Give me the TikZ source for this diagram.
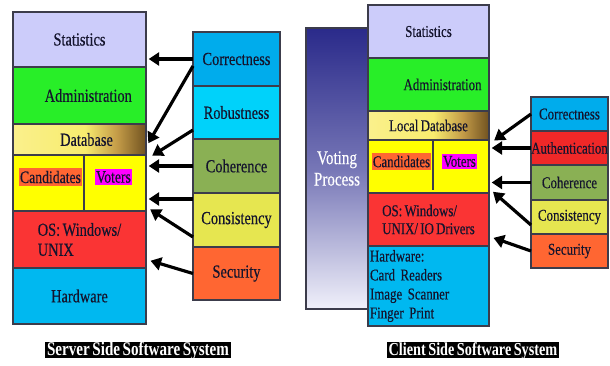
\documentclass[tikz,border=0pt]{standalone}
\usepackage{fontspec}
\setmainfont{Liberation Serif}[FakeStretch=0.78, WordSpace=0.7, UprightFeatures={FakeBold=0.4}]
\usepackage{tikz}
\usetikzlibrary{arrows.meta,calc,positioning}

\definecolor{statcol}{RGB}{204,204,250}
\definecolor{admcol}{RGB}{40,238,40}
\definecolor{candcol}{RGB}{255,255,0}
\definecolor{oscol}{RGB}{250,52,52}
\definecolor{hwcol}{RGB}{0,184,240}
\definecolor{corrcol}{RGB}{0,172,236}
\definecolor{robcol}{RGB}{0,210,250}
\definecolor{cohcol}{RGB}{138,176,84}
\definecolor{conscol}{RGB}{230,230,80}
\definecolor{seccol}{RGB}{255,102,50}
\definecolor{authcol}{RGB}{240,40,40}
\definecolor{votercol}{RGB}{255,0,255}
\definecolor{txtcol}{RGB}{20,20,45}
\definecolor{edgecol}{RGB}{60,60,75}
\definecolor{voteA}{RGB}{42,42,138}
\definecolor{voteM}{RGB}{118,118,182}
\definecolor{voteB}{RGB}{240,240,250}
\definecolor{dbA}{RGB}{250,240,140}
\definecolor{dbM}{RGB}{248,236,110}
\definecolor{dbB}{RGB}{196,156,72}
\definecolor{dbC}{RGB}{112,82,32}

% gold fade on the database rows
\pgfdeclarehorizontalshading{dbshade}{100bp}{color(0bp)=(dbA); color(25bp)=(dbA); color(52bp)=(dbM); color(64bp)=(dbB); color(75bp)=(dbC); color(100bp)=(dbC)}
% navy fade of the voting panel, top to bottom
\pgfdeclareverticalshading{voteshade}{100bp}{color(0bp)=(voteB); color(25bp)=(voteB); color(50bp)=(voteM); color(75bp)=(voteA); color(100bp)=(voteA)}

\begin{document}
\begin{tikzpicture}[
			x = 0.02cm, y = -0.02cm,
			layer/.style = {draw = edgecol, line width = 0.6pt, rectangle, anchor = north west,
				inner sep = 0pt, outer sep = 0pt, text = txtcol, font = \fontsize{10.5}{11.4}\selectfont},
			small/.style = {font = \fontsize{9.4}{10.2}\selectfont},
			px size/.style 2 args = {minimum width = #1*0.02cm, minimum height = #2*0.02cm},
			tag/.style = {inner xsep = 0.6pt, inner ysep = 1.4pt, text = txtcol},
			arr/.style = {-{Triangle[length=6pt,width=7.4pt]}, line width = 1.8pt, shorten > = 1.5pt},
			caption/.style = {fill = black, text = white, inner xsep = 1pt, inner ysep = 0pt,
				text height = 7.4pt, text depth = 1.2pt, font = \bfseries\fontsize{11}{12}\selectfont}
			]

			\useasboundingbox (0,0) rectangle (610,366);

			% server side layers
			\node[layer, px size={133}{55}, fill=statcol] (sStat) at (13,12) {Statistics};
			\node[layer, px size={133}{57}, fill=admcol, below=0pt of sStat] (sAdm) {\hspace{10pt}Administration};
			\node[layer, px size={133}{31}, shading=dbshade, below=0pt of sAdm] (sDb) {\hspace{8pt}Database};
			\node[layer, px size={133}{56}, fill=candcol, below=0pt of sDb] (sCand) {};
			\node[layer, px size={133}{57}, fill=oscol, below=0pt of sCand, align=left] (sOS) {OS: Windows/\\UNIX};
			\node[layer, px size={133}{56}, fill=hwcol, below=0pt of sOS] (sHw) {Hardware};

			\draw[edgecol, line width=0.6pt] ($(sCand.north west)+(71,0)$) -- ($(sCand.south west)+(71,-1)$);
			\node[tag, fill=seccol] (sCandi) at ($(sCand.center)+(-29,-6)$) {Candidates};
			\node[tag, fill=votercol] (sVot) at ($(sCand.center)+(34,-6)$) {Voters};

			% server side qualities
			\node[layer, px size={87}{54}, fill=corrcol] (sCorr) at (193,32) {Correctness};
			\node[layer, px size={87}{53}, fill=robcol, below=0pt of sCorr] (sRob) {Robustness};
			\node[layer, px size={87}{54}, fill=cohcol, below=0pt of sRob] (sCoh) {Coherence};
			\node[layer, px size={87}{54}, fill=conscol, below=0pt of sCoh] (sCons) {Consistency};
			\node[layer, px size={87}{53}, fill=seccol, below=0pt of sCons] (sSec) {Security};

			\coordinate (sConsTail) at ($(sCons.north west)+(0,6)$);
			\draw[arr] (sCorr.west) -- (sCorr.west -| sStat.east);
			\draw[arr] ($(sCorr.west)+(0,7)$) -- ($(sDb.east)+(1,6)$);
			\draw[arr] ($(sRob.south west)+(0,-9)$) -- ($(sCand.north east)+(4,2)$);
			\draw[arr] (sCoh.west) -- (sCoh.west -| sCand.east);
			\draw[arr] (sConsTail) -- (sConsTail -| sCand.east);
			\draw[arr] ($(sCons.south west)+(0,-10)$) -- ($(sCand.south east)+(2,-3)$);
			\draw[arr] (sSec.west) -- ($(sOS.south east)+(2,-8)$);

			% client side: voting process panel
			\node[layer, px size={62}{281}, shading=voteshade, text=white, align=center,
				font=\fontsize{11}{12.2}\selectfont] (vote) at (306,28) {Voting\\Process};

			\node[layer, small, px size={121}{53}, fill=statcol] (cStat) at (368,5) {Statistics};
			\node[layer, small, px size={121}{53}, fill=admcol, below=0pt of cStat] (cAdm) {\hspace{16pt}Administration};
			\node[layer, small, px size={121}{29}, shading=dbshade, below=0pt of cAdm] (cDb) {Local Database};
			\node[layer, small, px size={121}{53}, fill=candcol, below=0pt of cDb] (cCand) {};
			\node[layer, small, px size={121}{53}, fill=oscol, below=0pt of cCand, align=left] (cOS) {OS: Windows/\\UNIX/ IO Drivers};
			\node[layer, px size={121}{80}, fill=hwcol, below=0pt of cOS, align=left, text width=2.34cm,
				font=\fontsize{9.4}{10.8}\selectfont] (cHw) {Hardware:\\Card Readers\\Image Scanner\\Finger Print};

			\draw[edgecol, line width=0.6pt] ($(cCand.north west)+(65,0)$) -- ($(cCand.south west)+(65,-3)$);
			\node[tag, small, fill=seccol] (cCandi) at ($(cCand.center)+(-27,-5)$) {Candidates};
			\node[tag, small, fill=votercol] (cVot) at ($(cCand.center)+(31,-5)$) {Voters};

			\node[layer, small, px size={77}{34}, fill=corrcol] (cCorr) at (531,97) {Correctness};
			\node[layer, small, px size={77}{34}, fill=authcol, below=0pt of cCorr] (cAuth) {Authentication};
			\node[layer, small, px size={77}{35}, fill=cohcol, below=0pt of cAuth] (cCoh) {Coherence};
			\node[layer, small, px size={77}{34}, fill=conscol, below=0pt of cCoh] (cCons) {Consistency};
			\node[layer, small, px size={77}{34}, fill=seccol, below=0pt of cCons] (cSec) {Security};

			\draw[arr] (cCorr.west) -- ($(cCand.north east)+(3,2)$);
			\draw[arr] (cAuth.west) -- (cAuth.west -| cCand.east);
			\draw[arr] (cCoh.west) -- (cCoh.west -| cCand.east);
			\draw[arr] ($(cCons.west)+(0,8)$) -- ($(cCand.south east)+(2,-3)$);
			\draw[arr] (cSec.west) -- ($(cOS.south east)+(2,-9)$);

			% captions
			\node[caption] (sCap) at (138,350) {Server Side Software System};
			\node[caption, font=\bfseries\fontsize{10.4}{12}\selectfont] (cCap) at (473,350) {Client Side Software System};

		\end{tikzpicture}
\end{document}
